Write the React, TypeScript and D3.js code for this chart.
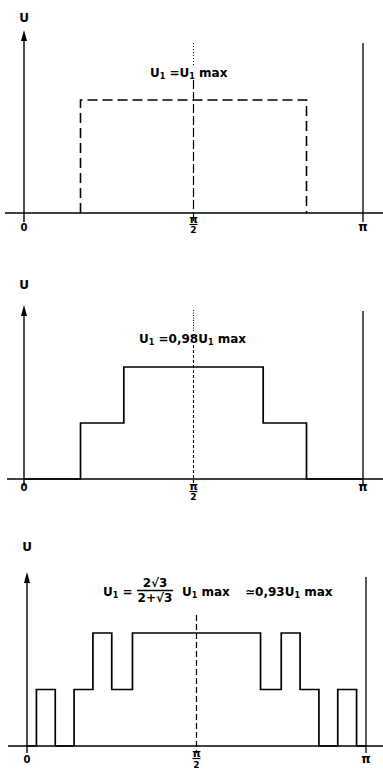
import React from "react";
import * as d3 from "d3";

// Angles in degrees along the half period [0, π]; levels relative to U max.
const ANGLE_DOMAIN = [0, 180];
const LEVEL_DOMAIN = [0, 1];

// Square wave of width 120° (dashed outline)
const wave1: [number, number][] = [
  [0, 0], [30, 1], [150, 0], [180, 0],
];
// Two-level staircase
const wave2: [number, number][] = [
  [0, 0], [30, 0.5], [53, 1], [127, 0.5], [150, 0], [180, 0],
];
// Multi-level notched staircase
const wave3: [number, number][] = [
  [0, 0], [5, 0.5], [15, 0], [25, 0.5], [35, 1], [45, 0.5], [56, 1],
  [124, 0.5], [135, 1], [145, 0.5], [155, 0], [165, 0.5], [175, 0], [180, 0],
];

const xTickValues = [0, 90, 180];

const FONT = "'DejaVu Sans', Arial, sans-serif";
const PI_FONT = "'DejaVu Sans', sans-serif";

type PanelLayout = {
  x0: number; xPi: number; base: number; unit: number;
  axisTop: number; uLabelY: number; midTop: number; piTop: number;
  xStart: number; tickDrop: number;
};

function Axes({ L, x, tickY }: { L: PanelLayout; x: d3.ScaleLinear<number, number>; tickY: number[] }) {
  const xa = x(0);
  return (
    <g>
      {/* horizontal axis */}
      <line x1={L.xStart} x2={383} y1={L.base} y2={L.base} stroke="#000" strokeWidth={1.6} />
      {/* vertical axis with arrow */}
      <line x1={xa} x2={xa} y1={L.base + L.tickDrop} y2={L.axisTop + 8} stroke="#000" strokeWidth={1.4} />
      <path d={`M${xa},${L.axisTop} L${xa - 3},${L.axisTop + 11} L${xa + 3},${L.axisTop + 11} Z`} fill="#000" />
      <text x={xa} y={L.uLabelY} textAnchor="middle" fontFamily={FONT} fontWeight="bold" fontSize={12}>U</text>
      {/* vertical line at π */}
      <line x1={x(180)} x2={x(180)} y1={L.piTop} y2={L.base + L.tickDrop} stroke="#000" strokeWidth={1.3} />
      {/* tick labels */}
      {xTickValues.map((v) => {
        const px = x(v);
        if (v === 0)
          return (
            <text key={v} x={px} y={tickY[0]} textAnchor="middle" fontFamily={FONT} fontWeight="bold" fontSize={10}>0</text>
          );
        if (v === 180)
          return (
            <text key={v} x={px} y={tickY[0]} textAnchor="middle" fontFamily={PI_FONT} fontWeight="bold" fontSize={12}>π</text>
          );
        return (
          <g key={v}>
            <text x={px} y={tickY[1]} textAnchor="middle" fontFamily={PI_FONT} fontWeight="bold" fontSize={11}>π</text>
            <line x1={px - 4} x2={px + 4} y1={tickY[1] + 1.5} y2={tickY[1] + 1.5} stroke="#000" strokeWidth={1.2} />
            <text x={px} y={tickY[2]} textAnchor="middle" fontFamily={FONT} fontWeight="bold" fontSize={9}>2</text>
          </g>
        );
      })}
    </g>
  );
}

function stepPath(data: [number, number][], x: d3.ScaleLinear<number, number>, y: d3.ScaleLinear<number, number>) {
  return d3.line<[number, number]>()
    .x((d) => x(d[0]))
    .y((d) => y(d[1]))
    .curve(d3.curveStepAfter)(data) || "";
}

export default function App() {
  const L1: PanelLayout = { x0: 24, xPi: 363, base: 213, unit: 113, axisTop: 30, uLabelY: 22, midTop: 43, piTop: 43, xStart: 5, tickDrop: 9 };
  const L2: PanelLayout = { x0: 24, xPi: 363, base: 479, unit: 112, axisTop: 305, uLabelY: 289, midTop: 310, piTop: 311, xStart: 7, tickDrop: 7 };
  const L3: PanelLayout = { x0: 27, xPi: 366, base: 746, unit: 113, axisTop: 572, uLabelY: 551, midTop: 615, piTop: 577, xStart: 8, tickDrop: 7 };

  const mk = (L: PanelLayout) => ({
    x: d3.scaleLinear().domain(ANGLE_DOMAIN).range([L.x0, L.xPi]),
    y: d3.scaleLinear().domain(LEVEL_DOMAIN).range([L.base, L.base - L.unit]),
  });
  const s1 = mk(L1), s2 = mk(L2), s3 = mk(L3);

  // wave1 is drawn without its baseline run: start at the rising edge
  const w1 = wave1.slice(1, 3);
  const p1 = `M${s1.x(w1[0][0])},${s1.y(0)} ` + stepPath([...w1, [wave1[2][0], 0]], s1.x, s1.y).replace(/^M/, "L");

  const sub = (t: string) => <tspan fontSize={8} dy={2}>{t}</tspan>;

  return (
    <svg width={383} height={778} style={{ position: "absolute", left: 0, top: 0, background: "#fff" }}>
      <rect width={383} height={778} fill="#fff" />

      {/* ---- panel 1 ---- */}
      <Axes L={L1} x={s1.x} tickY={[231, 223, 233]} />
      <line x1={s1.x(90)} x2={s1.x(90)} y1={L1.midTop} y2={65} stroke="#000" strokeWidth={1} strokeDasharray="1,2" />
      <line x1={s1.x(90)} x2={s1.x(90)} y1={80} y2={L1.base + L1.tickDrop} stroke="#000" strokeWidth={1.2} strokeDasharray="9,3" />
      <path d={p1} fill="none" stroke="#000" strokeWidth={1.6} strokeDasharray="10,5" />
      <text x={150} y={77} fontFamily={FONT} fontWeight="bold" fontSize={12}>
        U{sub("1")}<tspan dy={-2}> =U</tspan>{sub("1")}<tspan dy={-2}> max</tspan>
      </text>

      {/* ---- panel 2 ---- */}
      <Axes L={L2} x={s2.x} tickY={[491, 490, 500]} />
      <line x1={s2.x(90)} x2={s2.x(90)} y1={L2.midTop} y2={331} stroke="#000" strokeWidth={1} strokeDasharray="1,1.5" />
      <line x1={s2.x(90)} x2={s2.x(90)} y1={345} y2={L2.base + L2.tickDrop} stroke="#000" strokeWidth={1.1} strokeDasharray="3,2" />
      <path d={stepPath(wave2, s2.x, s2.y)} fill="none" stroke="#000" strokeWidth={1.7} />
      <text x={139} y={343} fontFamily={FONT} fontWeight="bold" fontSize={12}>
        U{sub("1")}<tspan dy={-2}> =0,98U</tspan>{sub("1")}<tspan dy={-2}> max</tspan>
      </text>

      {/* ---- panel 3 ---- */}
      <Axes L={L3} x={s3.x} tickY={[763, 757, 768]} />
      <line x1={s3.x(90)} x2={s3.x(90)} y1={L3.midTop} y2={L3.base + L3.tickDrop} stroke="#000" strokeWidth={1.2} strokeDasharray="6,3" />
      <path d={stepPath(wave3, s3.x, s3.y)} fill="none" stroke="#000" strokeWidth={1.7} />
      <g fontFamily={FONT} fontWeight="bold" fontSize={12}>
        <text x={103} y={596}>
          U{sub("1")}<tspan dy={-2}> =</tspan>
        </text>
        <text x={155} y={587} textAnchor="middle">2√3</text>
        <line x1={137} x2={173} y1={590.5} y2={590.5} stroke="#000" strokeWidth={1.3} />
        <text x={155} y={602} textAnchor="middle">2+√3</text>
        <text x={182} y={596}>
          U{sub("1")}<tspan dy={-2}> max</tspan>
        </text>
        <text x={245} y={596}>
          ≃0,93U{sub("1")}<tspan dy={-2}> max</tspan>
        </text>
      </g>
    </svg>
  );
}
